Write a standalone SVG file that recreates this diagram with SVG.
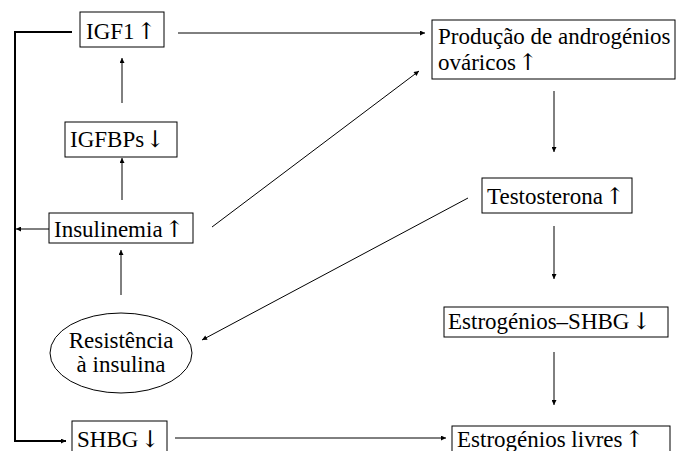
<svg xmlns="http://www.w3.org/2000/svg" width="678" height="451" viewBox="0 0 678 451">
<defs>
<style>
.box{fill:#fff;stroke:#000;stroke-width:1}
.t{font-family:"Liberation Serif","Times New Roman",serif;font-size:23px;fill:#000}
.a{font-family:"DejaVu Serif",serif;font-size:23px}
.c{fill:none;stroke:#000;stroke-width:1}
.thick{fill:none;stroke:#000;stroke-width:2}
</style>
<marker id="ah" viewBox="0 0 10 10" refX="10" refY="5" markerWidth="7" markerHeight="5" markerUnits="userSpaceOnUse" orient="auto"><path d="M0,0 L10,5 L0,10 z" fill="#000"/></marker>
</defs>
<rect width="678" height="451" fill="#fff"/>
<g id="connectors">
<path class="thick" d="M72,32 H15 V441 H66" marker-end="url(#ah)"/>
<path class="c" d="M49,229 H16" stroke-width="1.5" marker-end="url(#ah)"/>
<path class="c" d="M178,33 H425" marker-end="url(#ah)"/>
<path class="c" d="M122,103 V58" marker-end="url(#ah)"/>
<path class="c" d="M122,200 V158" marker-end="url(#ah)"/>
<path class="c" d="M121,295 V250" marker-end="url(#ah)"/>
<path class="c" d="M212,227 L419,71" marker-end="url(#ah)"/>
<path class="c" d="M554,91 V152" marker-end="url(#ah)"/>
<path class="c" d="M468,198 L202,340" marker-end="url(#ah)"/>
<path class="c" d="M554,226 V279" marker-end="url(#ah)"/>
<path class="c" d="M554,352 V405" marker-end="url(#ah)"/>
<path class="c" d="M175,438 H446" marker-end="url(#ah)"/>
</g>
<g id="igf1"><rect class="box" x="80" y="12" width="84" height="35"/><text class="t" x="86" y="39">IGF1<tspan class="a" dx="2">↑</tspan></text></g>
<g id="producao"><rect class="box" x="432" y="20" width="243" height="59"/><text class="t" x="438" y="44">Produção de androgénios</text><text class="t" x="438" y="70">ováricos<tspan class="a" dx="2" font-size="20">↑</tspan></text></g>
<g id="igfbps"><rect class="box" x="65" y="122" width="112" height="35"/><text class="t" x="70" y="147">IGFBPs<tspan class="a" dx="1">↓</tspan></text></g>
<g id="insulinemia"><rect class="box" x="49" y="213" width="144" height="30"/><text class="t" x="54" y="237">Insulinemia<tspan class="a" dx="2">↑</tspan></text></g>
<g id="testosterona"><rect class="box" x="482" y="178" width="150" height="35"/><text class="t" x="487" y="204">Testosterona<tspan class="a" dx="2">↑</tspan></text></g>
<g id="resistencia"><ellipse class="box" cx="121" cy="353" rx="71" ry="40"/><text class="t" x="121" y="348" text-anchor="middle">Resistência</text><text class="t" x="121" y="372" text-anchor="middle">à insulina</text></g>
<g id="estrogenios-shbg"><rect class="box" x="444" y="307" width="224" height="30"/><text class="t" x="448" y="329">Estrogénios–SHBG<tspan class="a" dx="2">↓</tspan></text></g>
<g id="shbg"><rect class="box" x="72" y="421" width="95" height="36"/><text class="t" x="77" y="447">SHBG<tspan class="a" dx="2">↓</tspan></text></g>
<g id="estrogenios-livres"><rect class="box" x="452" y="426" width="218" height="30"/><text class="t" x="457" y="447">Estrogénios livres<tspan class="a" dx="2">↑</tspan></text></g>
</svg>
